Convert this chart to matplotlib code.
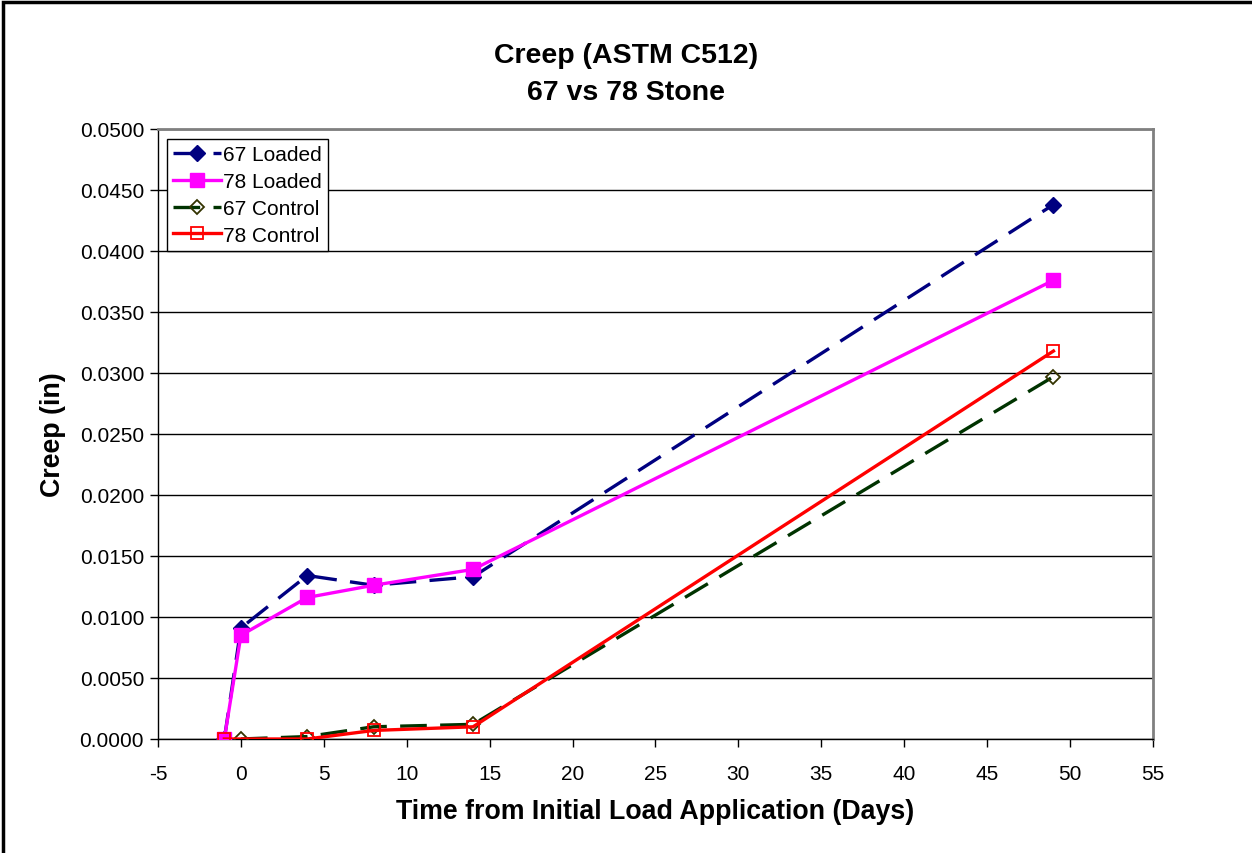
import matplotlib.pyplot as plt
import matplotlib.patches as mpatches

# Creep data
x_67_loaded = [-1, 0, 4, 8, 14, 49]
y_67_loaded = [0.0000, 0.0091, 0.0134, 0.0126, 0.0133, 0.0438]

x_78_loaded = [-1, 0, 4, 8, 14, 49]
y_78_loaded = [0.0000, 0.0085, 0.0116, 0.0126, 0.0139, 0.0376]

x_67_control = [0, 4, 8, 14, 49]
y_67_control = [0.0000, 0.0002, 0.0010, 0.0012, 0.0297]

x_78_control = [-1, 4, 8, 14, 49]
y_78_control = [0.0000, 0.0000, 0.0007, 0.0010, 0.0318]

x_ticks = list(range(-5, 56, 5))
y_ticks = [i * 0.005 for i in range(11)]

plt.rcParams['font.family'] = ['Liberation Sans', 'DejaVu Sans']
plt.rcParams['axes.unicode_minus'] = False

fig = plt.figure(figsize=(12.52, 8.54), dpi=100)
ax = fig.add_axes([0.1262, 0.1335, 0.7947, 0.7143])

ax.plot(x_67_loaded, y_67_loaded, color='#000080', lw=2.4, dashes=(8, 4),
        marker='D', ms=8, mfc='#000080', mec='#000080', label='67 Loaded', zorder=3)
ax.plot(x_78_loaded, y_78_loaded, color='#FF00FF', lw=2.4,
        marker='s', ms=10, mfc='#FF00FF', mec='#FF00FF', label='78 Loaded', zorder=3)
ax.plot(x_67_control, y_67_control, color='#003300', lw=2.4, dashes=(8, 4),
        marker='D', ms=7, mfc='none', mec='#333300', mew=1.3, label='67 Control', zorder=3)
ax.plot(x_78_control, y_78_control, color='#FF0000', lw=2.4,
        marker='s', ms=9, mfc='none', mec='#FF0000', mew=1.3, label='78 Control', zorder=3)

ax.set_xlim(-5, 55)
ax.set_ylim(0, 0.05)
ax.set_xticks(x_ticks)
ax.set_xticklabels([str(v) for v in x_ticks])
ax.set_yticks(y_ticks)
ax.set_yticklabels(['%.4f' % v for v in y_ticks])
ax.tick_params(axis='both', labelsize=15, direction='out', length=6, width=1, color='black')
ax.tick_params(axis='x', pad=12)
ax.tick_params(axis='y', pad=4)

ax.yaxis.grid(True, color='black', lw=1)
ax.set_axisbelow(True)
for side in ['top', 'right']:
    ax.spines[side].set_color('#808080')
    ax.spines[side].set_linewidth(2)
for side in ['left', 'bottom']:
    ax.spines[side].set_color('black')
    ax.spines[side].set_linewidth(1)

ax.set_xlabel('Time from Initial Load Application (Days)', fontsize=19.3, fontweight='bold', labelpad=11)
ax.set_ylabel('Creep (in)', fontsize=19.3, fontweight='bold', labelpad=10)

fig.text(0.5, 0.934, 'Creep (ASTM C512)', ha='center', va='center', fontsize=20.5, fontweight='bold')
fig.text(0.5, 0.891, '67 vs 78 Stone', ha='center', va='center', fontsize=20.5, fontweight='bold')

leg = ax.legend(loc='upper left', bbox_to_anchor=(0.009, 0.984), fontsize=15, frameon=True,
                fancybox=False, edgecolor='black', framealpha=1, handlelength=2.3,
                borderpad=0.3, labelspacing=0.38, handletextpad=0.1, borderaxespad=0)
leg.get_frame().set_linewidth(1)

# outer chart border (only top and left visible in the crop)
fig.patches.append(mpatches.Rectangle((0.0024, -0.1), 1.2, 1.0967, transform=fig.transFigure,
                                      fill=False, edgecolor='black', lw=2.5))

fig.savefig('out.png', dpi=100)
